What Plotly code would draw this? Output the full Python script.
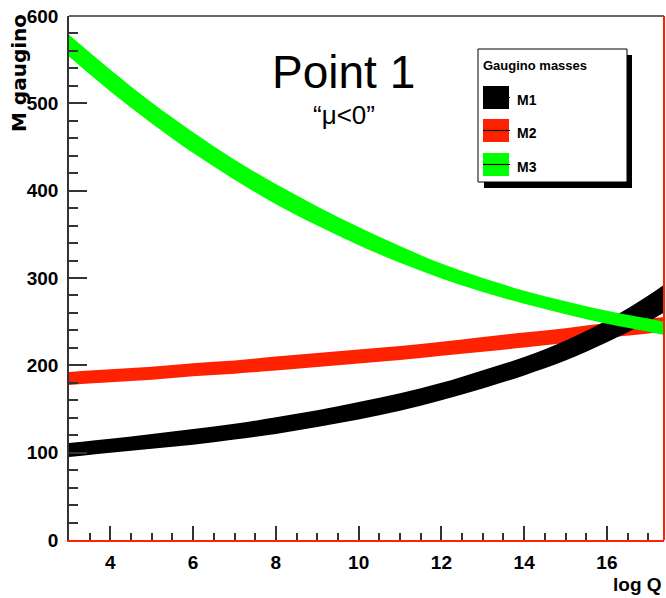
import plotly.graph_objects as go

# ---------------- data ----------------
log_q = [3, 4, 5, 6, 7, 8, 9, 10, 11, 12, 13, 14, 15, 16, 17, 17.4]

m1 = [103, 108, 113, 118, 124, 131, 139, 148, 158, 170, 184, 199, 217, 239, 265, 277]
m1_err = [8, 8, 8.5, 9, 9, 9.5, 9.5, 10, 10, 10, 10.5, 10.5, 11.5, 12.5, 15, 16]

m2 = [185, 188, 191, 195, 198, 202, 206, 210, 214, 219, 224, 229, 234, 240, 245, 247]
m2_err = [7.5, 7.5, 7.5, 7.5, 7.5, 8, 8, 8, 8, 8, 8.5, 8.5, 8.5, 8.5, 8.5, 8.5]

m3 = [566, 526, 489, 455, 424, 396, 371, 348, 327, 308, 292, 278, 266, 255, 246, 242]
m3_err = [12.5, 12.5, 12, 12, 11.5, 11.5, 11, 10.5, 9.5, 8.5, 8, 7.5, 7.5, 7.5, 7.5, 7.5]

series_names = ["M1", "M2", "M3"]
series_vals = [m1, m2, m3]
series_errs = [m1_err, m2_err, m3_err]
series_colors = ["#000000", "#ff2200", "#00ff00"]
draw_order = [1, 0, 2]

x_ticks = [4, 6, 8, 10, 12, 14, 16]
y_ticks = [0, 100, 200, 300, 400, 500, 600]

# ---------------- figure ----------------
SANS = "Liberation Sans, Arial, Helvetica, sans-serif"

fig = go.Figure()
for i in draw_order:
    lo = [v - e for v, e in zip(series_vals[i], series_errs[i])]
    hi = [v + e for v, e in zip(series_vals[i], series_errs[i])]
    fig.add_trace(go.Scatter(x=log_q, y=lo, mode="lines", line=dict(width=0, shape="spline"),
                             showlegend=False, hoverinfo="skip"))
    fig.add_trace(go.Scatter(x=log_q, y=hi, mode="lines", line=dict(width=0, shape="spline"),
                             fill="tonexty", fillcolor=series_colors[i], name=series_names[i],
                             showlegend=False))

# plot area in pixels
PL, PR, PT, PB = 69, 664, 16, 540
W, H = 666, 598


def px(x):
    return (x - PL) / (PR - PL)


def py(y):
    return (PB - y) / (PB - PT)


shapes = []
# frame: top black, right red
shapes.append(dict(type="line", xref="paper", yref="paper", x0=0, x1=1, y0=1, y1=1,
                   line=dict(color="#333333", width=1.5), layer="above"))
shapes.append(dict(type="line", xref="paper", yref="paper", x0=1, x1=1, y0=0, y1=1,
                   line=dict(color="#ff2200", width=2), layer="above"))

# legend box with shadow
shapes.append(dict(type="rect", xref="paper", yref="paper", x0=px(484), x1=px(632), y0=py(188), y1=py(55),
                   fillcolor="black", line=dict(width=0), layer="above"))
shapes.append(dict(type="rect", xref="paper", yref="paper", x0=px(478), x1=px(627), y0=py(182), y1=py(49),
                   fillcolor="white", line=dict(color="black", width=1), layer="above"))

annotations = []
annotations.append(dict(text="<b>Gaugino masses</b>", xref="paper", yref="paper", x=px(481), y=py(65),
                        xanchor="left", yanchor="middle", showarrow=False,
                        font=dict(family=SANS, size=13, color="black")))
sq_tops = [86, 119, 153]
for k in range(3):
    top = sq_tops[k]
    bot = top + 23
    mid = (top + bot) / 2
    shapes.append(dict(type="rect", xref="paper", yref="paper", x0=px(483), x1=px(509), y0=py(bot), y1=py(top),
                       fillcolor=series_colors[k], line=dict(width=0), layer="above"))
    shapes.append(dict(type="line", xref="paper", yref="paper", x0=px(483), x1=px(510), y0=py(mid), y1=py(mid),
                       line=dict(color="black", width=1.2), layer="above"))
    annotations.append(dict(text="<b>" + series_names[k] + "</b>", xref="paper", yref="paper",
                            x=px(515), y=py(mid + 2), xanchor="left", yanchor="middle", showarrow=False,
                            font=dict(family=SANS, size=14, color="black")))

# title texts
annotations.append(dict(text="Point 1", xref="paper", yref="paper", x=px(343), y=py(72),
                        xanchor="center", yanchor="middle", showarrow=False,
                        font=dict(family=SANS, size=46, color="black")))
annotations.append(dict(text="\u201c\u03bc<0\u201d", xref="paper", yref="paper", x=px(344), y=py(115),
                        xanchor="center", yanchor="middle", showarrow=False,
                        font=dict(family=SANS, size=26, color="black")))
# axis titles
annotations.append(dict(text="<b>log Q</b>", xref="paper", yref="paper", x=px(664), y=py(584),
                        xanchor="right", yanchor="middle", showarrow=False,
                        font=dict(family=SANS, size=19, color="black")))
annotations.append(dict(text="<b>M gaugino</b>", xref="paper", yref="paper", x=px(19), y=py(73),
                        xanchor="center", yanchor="middle", showarrow=False, textangle=-90,
                        font=dict(family="DejaVu Sans", size=20, color="black")))

fig.update_layout(
    width=W, height=H,
    margin=dict(l=PL, r=W - PR, t=PT, b=H - PB, pad=0),
    paper_bgcolor="white", plot_bgcolor="white",
    showlegend=False,
    shapes=shapes, annotations=annotations,
    xaxis=dict(range=[3, 17.38], tickvals=x_ticks, ticks="inside", ticklen=14, tickwidth=1.5,
               tickcolor="#333333", showline=True, linecolor="#ff2200", linewidth=2,
               showgrid=False, zeroline=False, ticklabelstandoff=4,
               minor=dict(dtick=0.5, tick0=0, ticks="inside", ticklen=7, tickwidth=1.5, tickcolor="#333333",
                          showgrid=False),
               tickfont=dict(family=SANS, size=19, color="black", weight="bold")),
    yaxis=dict(range=[0, 600], tickvals=y_ticks, ticks="inside", ticklen=18, tickwidth=1.5,
               tickcolor="#333333", showline=True, linecolor="#333333", linewidth=1.5,
               showgrid=False, zeroline=False, ticklabelstandoff=5,
               minor=dict(dtick=20, tick0=0, ticks="inside", ticklen=9, tickwidth=1.5, tickcolor="#333333",
                          showgrid=False),
               tickfont=dict(family=SANS, size=19, color="black", weight="bold")),
)

fig.write_html("out.html")
